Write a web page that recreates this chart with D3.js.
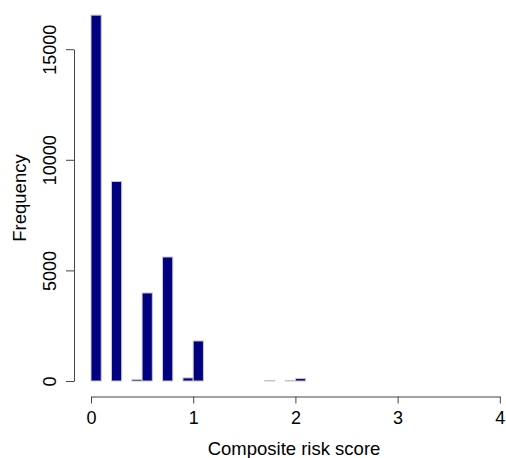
<!DOCTYPE html>
<html>
<head>
<meta charset="utf-8">
<script src="https://cdn.jsdelivr.net/npm/d3@7"></script>
<style>
  html, body { margin: 0; padding: 0; background: #fff; }
  svg text { font-family: "Liberation Sans", Arial, sans-serif; fill: #000; }
</style>
</head>
<body>
<svg id="chart" width="506" height="458"></svg>
<script>
// Histogram bins: width 0.1 from 0 to 4
const binStarts = d3.range(0, 40).map(i => +(i / 10).toFixed(1));
const counts = [
  16540, 0, 9020, 0, 70, 3980, 0, 5605, 0, 140,
  1810, 0, 0, 0, 0, 0, 0, 15, 0, 15,
  110, 0, 0, 0, 0, 0, 0, 0, 0, 0,
  0, 0, 0, 0, 0, 0, 0, 0, 0, 0
];
const binWidth = 0.1;
const xTicks = [0, 1, 2, 3, 4];
const yTicks = [0, 5000, 10000, 15000];
const xTitle = "Composite risk score";
const yTitle = "Frequency";

const svg = d3.select("#chart");
const x = d3.scaleLinear().domain([0, 4]).range([91, 499.8]);
const y = d3.scaleLinear().domain([0, 15000]).range([381, 49.2]);

const data = binStarts.map((s, i) => ({ x0: s, x1: s + binWidth, n: counts[i] }));

// bars
svg.append("g").selectAll("rect").data(data).join("rect")
  .attr("x", d => x(d.x0))
  .attr("y", d => y(d.n))
  .attr("width", d => x(d.x1) - x(d.x0))
  .attr("height", d => y(0) - y(d.n))
  .attr("fill", "#000080")
  .attr("stroke", "#c8c8c8")
  .attr("stroke-width", 1);

// y axis
const yAxis = svg.append("g").attr("transform", "translate(74,0)")
  .call(d3.axisLeft(y).tickValues(yTicks).tickSize(8).tickSizeOuter(0).tickFormat(d3.format("d")));
yAxis.select(".domain").attr("stroke", "#444");
yAxis.selectAll(".tick line").attr("stroke", "#444");
yAxis.selectAll(".tick text")
  .attr("font-size", 18)
  .attr("text-anchor", "middle")
  .attr("dy", null)
  .attr("x", null)
  .attr("transform", "translate(-18,0) rotate(-90)");

// x axis
const xAxis = svg.append("g").attr("transform", "translate(0,396.5)")
  .call(d3.axisBottom(x).tickValues(xTicks).tickSize(7).tickSizeOuter(0).tickFormat(d3.format("d")));
xAxis.select(".domain").attr("stroke", "#444");
xAxis.selectAll(".tick line").attr("stroke", "#444");
xAxis.selectAll(".tick text")
  .attr("font-size", 18)
  .attr("dy", null)
  .attr("y", 27.5);

// titles
svg.append("text")
  .attr("x", 294).attr("y", 455)
  .attr("text-anchor", "middle")
  .attr("font-size", 18.5)
  .text(xTitle);
svg.append("text")
  .attr("transform", "translate(26,198) rotate(-90)")
  .attr("text-anchor", "middle")
  .attr("font-size", 18.5)
  .text(yTitle);
</script>
</body>
</html>
